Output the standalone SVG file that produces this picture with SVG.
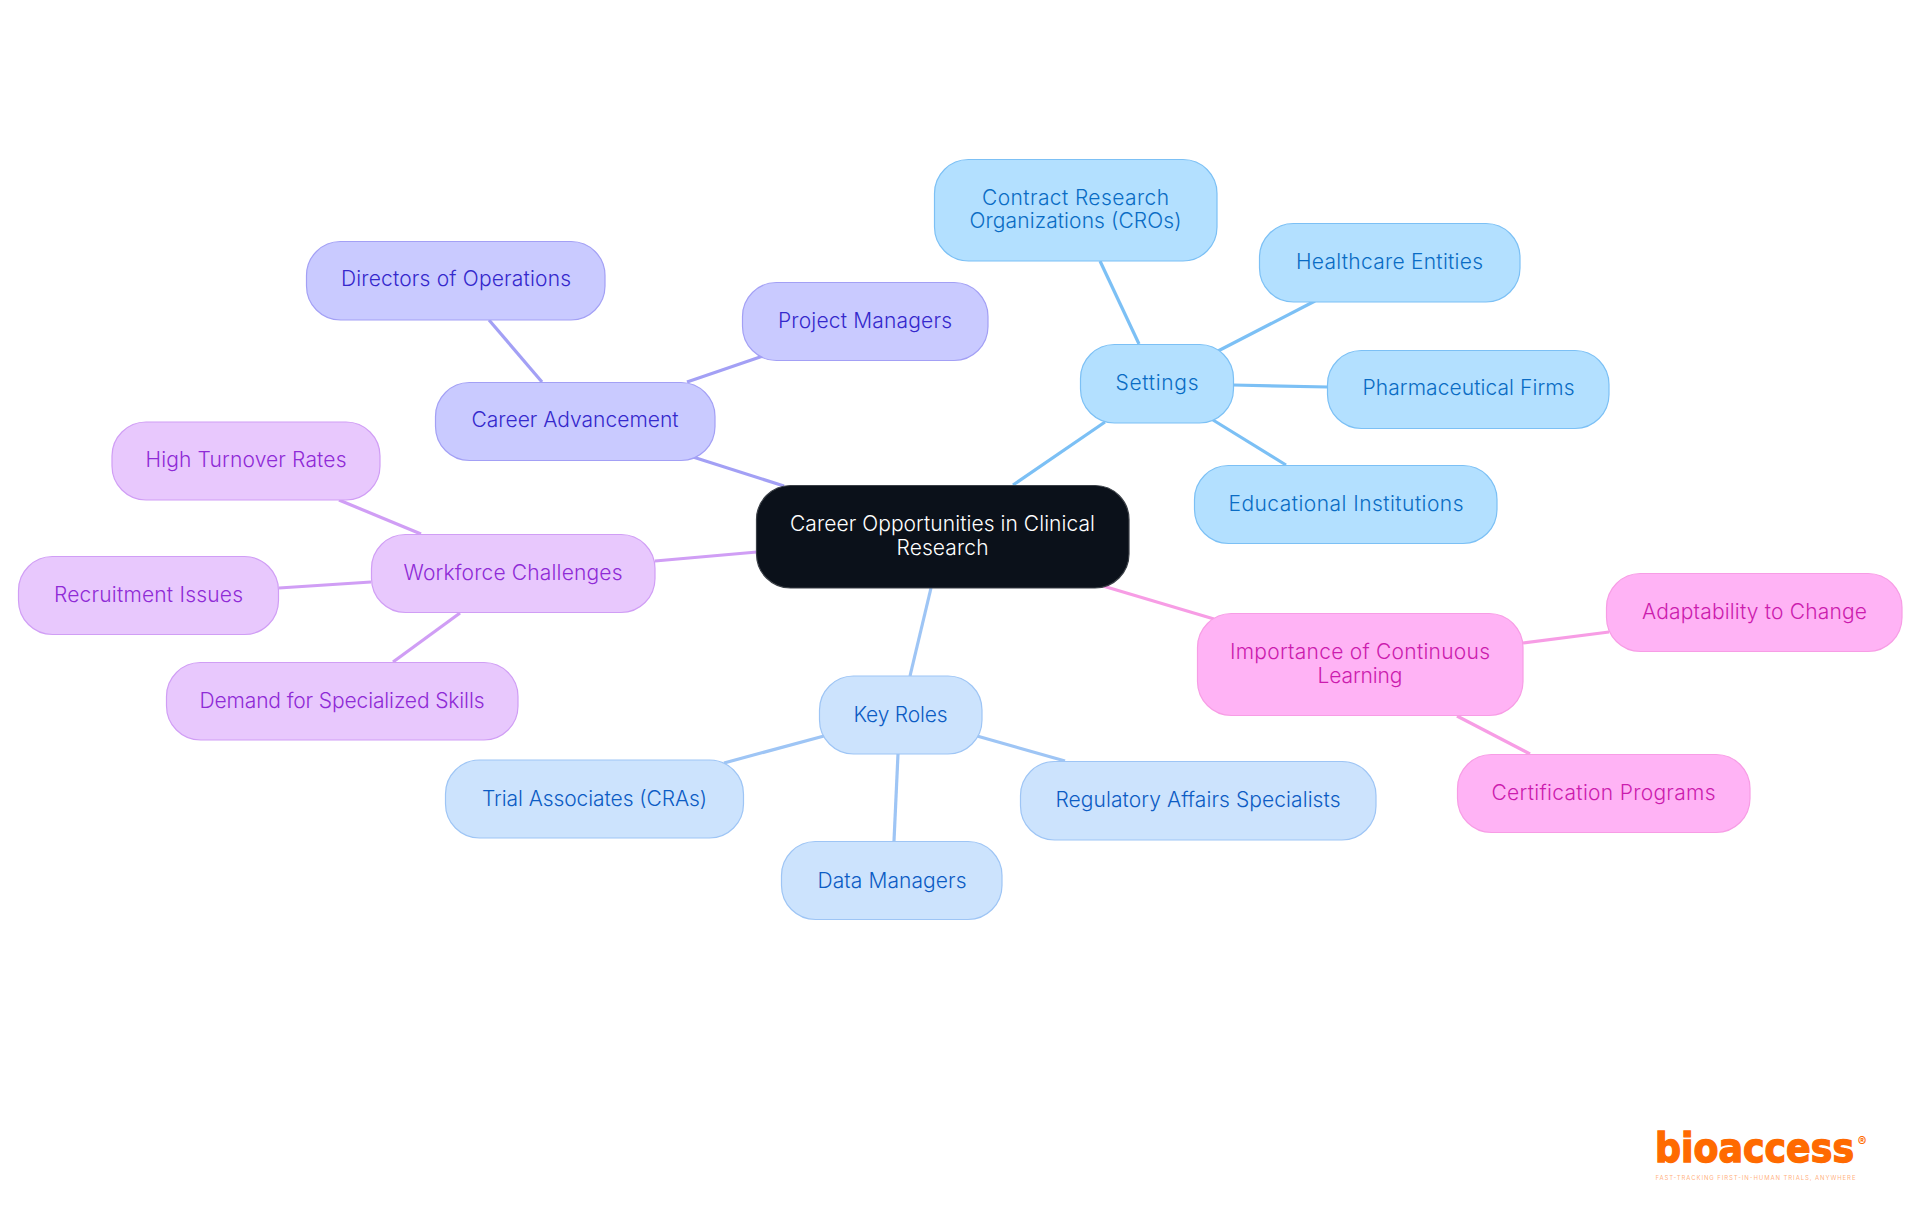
<svg xmlns="http://www.w3.org/2000/svg" width="1920" height="1215" viewBox="0 0 1920 1215">
<style>
text{font-family:"Inter","Noto Sans",sans-serif;font-size:21px;font-weight:350;text-anchor:middle}
rect{stroke-width:1.2;rx:34px}
#connectors line{stroke-width:3.2;fill:none}
.s rect{fill:#b3e0ff;stroke:#7cc0f5}.s text{fill:#0a6cc4}.sl{stroke:#7cc0f5}
.a rect{fill:#c9caff;stroke:#a3a0f5}.a text{fill:#3528cc}.al{stroke:#a3a0f5}
.w rect{fill:#e8c8fd;stroke:#d09ef5}.w text{fill:#8f2bd6}.wl{stroke:#d09ef5}
.k rect{fill:#cce3fd;stroke:#9ec5f5}.k text{fill:#0c5cc4}.kl{stroke:#9ec5f5}
.p rect{fill:#ffb3f5;stroke:#f79de5}.p text{fill:#cc1cae}.pl{stroke:#f79de5}
</style>
<g id="connectors">
<line class="sl" x1="1013" y1="485" x2="1105" y2="422"/>
<line class="al" x1="784" y1="486" x2="693" y2="457"/>
<line class="wl" x1="757" y1="552" x2="655" y2="561"/>
<line class="kl" x1="931" y1="588" x2="910" y2="676"/>
<line class="pl" x1="1103" y1="586" x2="1214" y2="619"/>
<line class="sl" x1="1139" y1="344" x2="1100" y2="261"/>
<line class="sl" x1="1218" y1="351" x2="1315" y2="301"/>
<line class="sl" x1="1233" y1="385" x2="1328" y2="387"/>
<line class="sl" x1="1213" y1="420" x2="1286" y2="465"/>
<line class="al" x1="542" y1="382" x2="489" y2="320"/>
<line class="al" x1="687" y1="382" x2="763" y2="356"/>
<line class="wl" x1="421" y1="534" x2="339" y2="500"/>
<line class="wl" x1="371" y1="582" x2="279" y2="588"/>
<line class="wl" x1="460" y1="613" x2="393" y2="662"/>
<line class="kl" x1="824" y1="736" x2="724" y2="763"/>
<line class="kl" x1="898" y1="754" x2="894" y2="841"/>
<line class="kl" x1="977" y1="736" x2="1065" y2="761"/>
<line class="pl" x1="1523" y1="643" x2="1609" y2="632"/>
<line class="pl" x1="1457" y1="716" x2="1530" y2="754"/>
</g>
<g id="root"><rect x="756.500" y="485.500" width="372.500" height="102.500" fill="#0b111a" stroke="#3a3f46"/><text x="942.500" y="531" fill="#fff" textLength="305">Career Opportunities in Clinical</text><text x="942.500" y="555" fill="#fff" textLength="92">Research</text></g>
<g id="settings" class="s"><rect x="1080.500" y="344.500" width="153" height="78.500"/><text x="1157" y="390" textLength="83">Settings</text></g>
<g id="contract" class="s"><rect x="934.500" y="159.500" width="282.500" height="101.500"/><text x="1075.500" y="205" textLength="187">Contract Research</text><text x="1075.500" y="228" textLength="212">Organizations (CROs)</text></g>
<g id="healthcare" class="s"><rect x="1259.500" y="223.500" width="260.500" height="78.500"/><text x="1389.500" y="269" textLength="187">Healthcare Entities</text></g>
<g id="pharma" class="s"><rect x="1327.500" y="350.500" width="281.500" height="78"/><text x="1468.500" y="395" textLength="212">Pharmaceutical Firms</text></g>
<g id="educational" class="s"><rect x="1194.500" y="465.500" width="302.500" height="78"/><text x="1346" y="511" textLength="235">Educational Institutions</text></g>
<g id="advancement" class="a"><rect x="435.500" y="382.500" width="279.500" height="78"/><text x="575" y="427" textLength="207">Career Advancement</text></g>
<g id="directors" class="a"><rect x="306.500" y="241.500" width="298.500" height="78.500"/><text x="456" y="286" textLength="230">Directors of Operations</text></g>
<g id="project" class="a"><rect x="742.500" y="282.500" width="245.500" height="78"/><text x="865" y="328" textLength="174">Project Managers</text></g>
<g id="workforce" class="w"><rect x="371.500" y="534.500" width="283.500" height="78"/><text x="513" y="580" textLength="219">Workforce Challenges</text></g>
<g id="turnover" class="w"><rect x="112" y="422" width="268" height="78"/><text x="246" y="467" textLength="201">High Turnover Rates</text></g>
<g id="recruitment" class="w"><rect x="18.500" y="556.500" width="260" height="78"/><text x="148.500" y="602" textLength="189">Recruitment Issues</text></g>
<g id="demand" class="w"><rect x="166.500" y="662.500" width="351.500" height="77.500"/><text x="342" y="708" textLength="285">Demand for Specialized Skills</text></g>
<g id="keyroles" class="k"><rect x="819.500" y="676" width="162.500" height="78"/><text x="900.500" y="722" textLength="94">Key Roles</text></g>
<g id="trial" class="k"><rect x="445.500" y="760" width="298" height="78"/><text x="594.500" y="806" textLength="225">Trial Associates (CRAs)</text></g>
<g id="data" class="k"><rect x="781.500" y="841.500" width="220.500" height="78"/><text x="892" y="888" textLength="149">Data Managers</text></g>
<g id="regulatory" class="k"><rect x="1020.500" y="761.500" width="355.500" height="78.500"/><text x="1198" y="807" textLength="285">Regulatory Affairs Specialists</text></g>
<g id="importance" class="p"><rect x="1197.500" y="613.500" width="325.500" height="102"/><text x="1360" y="659" textLength="260">Importance of Continuous</text><text x="1360" y="683" textLength="85">Learning</text></g>
<g id="adaptability" class="p"><rect x="1606.500" y="573.500" width="295.500" height="78"/><text x="1754.500" y="619" textLength="225">Adaptability to Change</text></g>
<g id="certification" class="p"><rect x="1457.500" y="754.500" width="292.500" height="78"/><text x="1603.500" y="800" textLength="224">Certification Programs</text></g>
<g id="logo"><text transform="translate(1754.500 1162) scale(.909 1)" fill="#ff6a00" style="font-family:'DejaVu Sans',sans-serif;font-size:40px;font-weight:700" stroke="#ff6a00" stroke-width="1.400">bioaccess</text><text x="1862" y="1146" fill="#ff6a00" style="font-size:13px;font-weight:700">®</text><text x="1755.500" y="1180" fill="#ff6a00" fill-opacity=".55" style="font-size:6px;font-weight:400" textLength="200">FAST-TRACKING FIRST-IN-HUMAN TRIALS, ANYWHERE</text></g>
</svg>
